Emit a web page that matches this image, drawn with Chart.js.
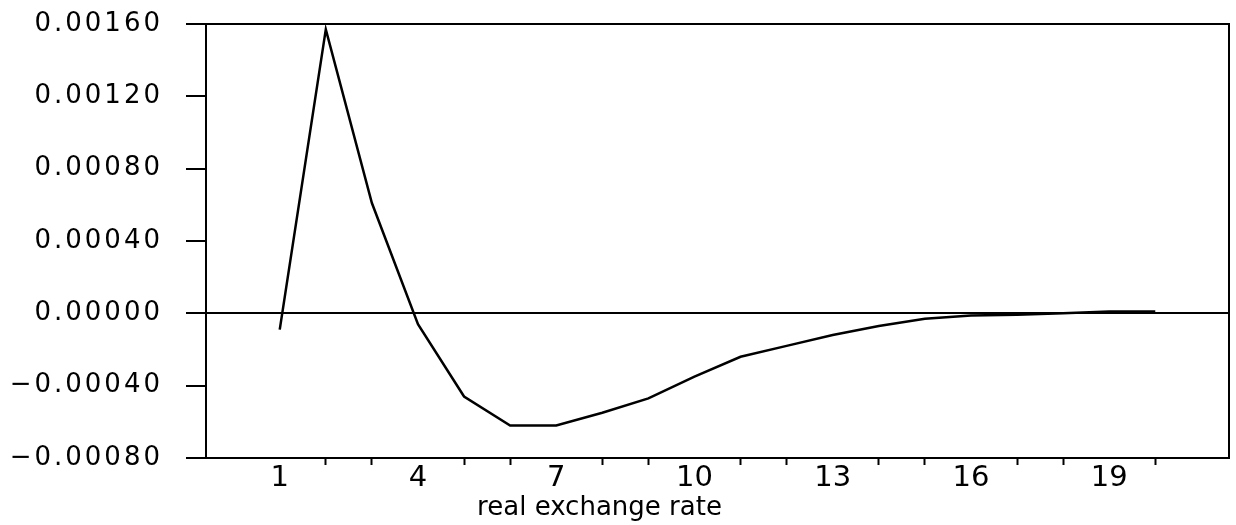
<!DOCTYPE html>
<html>
<head>
<meta charset="utf-8">
<script src="https://cdn.jsdelivr.net/npm/chart.js@4/dist/chart.umd.min.js"></script>
<style>
  body { margin: 0; background: #fff; }
  canvas { display: block; }
</style>
</head>
<body>
<canvas id="irfChart" width="1236" height="525"></canvas>
<script>
  "use strict";

  // impulse response, periods 1..20
  var periods = [1, 2, 3, 4, 5, 6, 7, 8, 9, 10, 11, 12, 13, 14, 15, 16, 17, 18, 19, 20];
  var response = [-0.00009, 0.00157, 0.00061, -0.00006, -0.00046, -0.00062, -0.00062, -0.00055,
                  -0.00047, -0.00035, -0.00024, -0.00018, -0.00012, -0.00007, -0.00003,
                  -0.000012, -0.000008, 0.0, 0.00001, 0.00001];

  var xTicks = [1, 2, 3, 4, 5, 6, 7, 8, 9, 10, 11, 12, 13, 14, 15, 16, 17, 18, 19, 20];
  var xLabelled = [1, 4, 7, 10, 13, 16, 19];
  var yTicks = [-0.0008, -0.0004, 0, 0.0004, 0.0008, 0.0012, 0.0016];
  var yTickLabels = ["\u22120.00080", "\u22120.00040", "0.00000", "0.00040", "0.00080", "0.00120", "0.00160"];
  var xTitle = "real exchange rate";

  // wide y labels, shifted axis title, top/right frame
  var frame = {
    id: "frame",
    beforeDraw: function (chart) {
      var ys = chart.scales.y, xs = chart.scales.x;
      if (!ys._spaced) {
        var drawY = ys.drawLabels.bind(ys);
        ys.drawLabels = function (area) {
          var c = this.ctx;
          c.save();
          c.letterSpacing = "3px";
          drawY(area);
          c.restore();
        };
        ys._spaced = true;
      }
      if (!xs._shifted) {
        var drawT = xs.drawTitle.bind(xs);
        xs.drawTitle = function (area) {
          var c = this.ctx;
          c.save();
          c.translate(-118, 0);
          drawT(area);
          c.restore();
        };
        xs._shifted = true;
      }
    },
    afterDraw: function (chart) {
      var a = chart.chartArea, c = chart.ctx;
      c.save();
      c.strokeStyle = "#000";
      c.lineWidth = 2;
      c.beginPath();
      c.moveTo(a.left, a.top);
      c.lineTo(a.right, a.top);
      c.lineTo(a.right, a.bottom);
      c.stroke();
      c.restore();
    }
  };

  var points = periods.map(function (p, i) { return { x: p, y: response[i] }; });

  var ctx = document.getElementById("irfChart");
  var myChart = new Chart(ctx, {
    type: "line",
    data: {
      datasets: [{
        data: points,
        borderColor: "#000",
        borderWidth: 2.5,
        pointRadius: 0,
        tension: 0,
        fill: false
      }]
    },
    options: {
      responsive: false,
      animation: false,
      devicePixelRatio: 1,
      layout: { padding: { top: 24, right: 7, left: 0, bottom: 0 } },
      plugins: { legend: { display: false }, tooltip: { enabled: false } },
      scales: {
        x: {
          type: "linear",
          min: -0.6,
          max: 21.6,
          afterBuildTicks: function (scale) {
            scale.ticks = xTicks.map(function (v) { return { value: v }; });
          },
          afterFit: function (scale) {
            scale.height = 67;
            scale.paddingLeft = 0;
            scale.paddingRight = 0;
          },
          border: { display: true, color: "#000", width: 2 },
          grid: {
            drawOnChartArea: false,
            tickLength: 7,
            tickWidth: 2,
            tickColor: function (c) {
              return c.tick && xLabelled.indexOf(c.tick.value) >= 0 ? "rgba(0,0,0,0)" : "#000";
            }
          },
          ticks: {
            autoSkip: false,
            maxRotation: 0,
            padding: -4,
            color: "#000",
            font: { family: "DejaVu Sans", size: 29 },
            callback: function (value) {
              return xLabelled.indexOf(value) >= 0 ? String(value) : "";
            }
          },
          title: {
            display: true,
            text: xTitle,
            color: "#000",
            font: { family: "DejaVu Sans", size: 26 },
            padding: { top: 0, bottom: 1 }
          }
        },
        y: {
          min: -0.0008,
          max: 0.0016,
          afterBuildTicks: function (scale) {
            scale.ticks = yTicks.map(function (v) { return { value: v }; });
          },
          afterFit: function (scale) {
            scale.width = 206;
            scale.paddingTop = 0;
            scale.paddingBottom = 0;
          },
          border: { display: true, color: "#000", width: 2 },
          grid: {
            drawOnChartArea: true,
            lineWidth: 2,
            tickLength: 20,
            tickWidth: 2,
            tickColor: "#000",
            color: function (c) {
              return c.tick && c.tick.value === 0 ? "#000" : "rgba(0,0,0,0)";
            }
          },
          ticks: {
            padding: 23,
            color: "#000",
            font: { family: "DejaVu Sans", size: 26 },
            callback: function (value, index) { return yTickLabels[index]; }
          }
        }
      }
    },
    plugins: [frame]
  });
</script>
</body>
</html>
